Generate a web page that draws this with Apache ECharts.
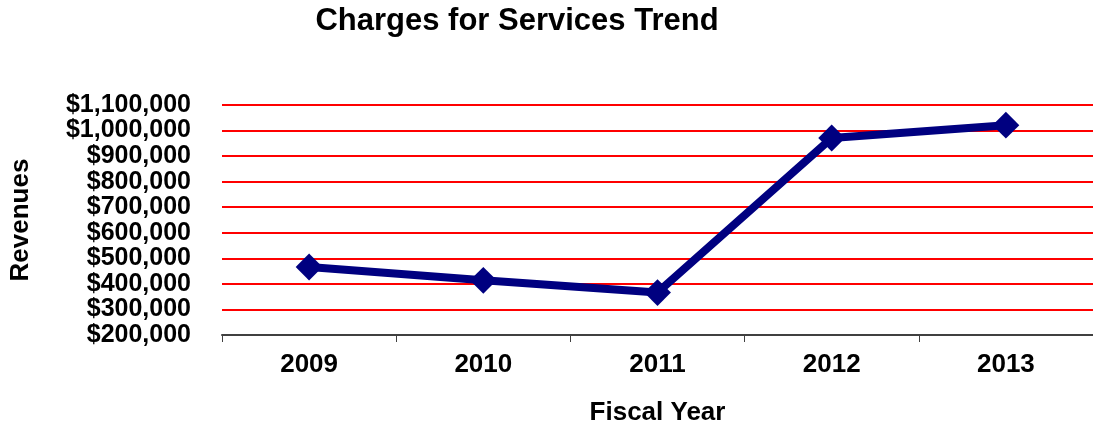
<!DOCTYPE html>
<html>
<head>
<meta charset="utf-8">
<script src="https://cdn.jsdelivr.net/npm/echarts@6/dist/echarts.min.js"></script>
<style>
  html, body { margin: 0; padding: 0; background: #fff; }
  #chart { width: 1093px; height: 431px; }
</style>
</head>
<body>
<div id="chart"></div>
<script>
// Fiscal years and charges-for-services revenue
const years = ['2009', '2010', '2011', '2012', '2013'];
const revenues = [466000, 414000, 366000, 971000, 1021000];
const yMin = 200000;
const yMax = 1100000;
const yStep = 100000;

const font = '"Liberation Sans", Arial, sans-serif';
const chart = echarts.init(document.getElementById('chart'));

chart.setOption({
  animation: false,
  backgroundColor: '#ffffff',
  title: {
    text: 'Charges for Services Trend',
    left: 512,
    textAlign: 'center',
    top: 1,
    textStyle: { fontFamily: font, fontWeight: 'bold', fontSize: 31, color: '#000' }
  },
  grid: { left: 222, right: -6, top: 105, bottom: 96 },
  xAxis: {
    type: 'category',
    data: years,
    boundaryGap: true,
    name: 'Fiscal Year',
    nameLocation: 'middle',
    nameGap: 65,
    nameTextStyle: { fontFamily: font, fontWeight: 'bold', fontSize: 26, color: '#000' },
    axisLine: { lineStyle: { color: '#404040', width: 2 } },
    axisTick: { show: true, alignWithLabel: false, length: 7, lineStyle: { color: '#404040', width: 1 } },
    axisLabel: { fontFamily: font, fontWeight: 'bold', fontSize: 26, color: '#000', margin: 17 },
    splitLine: { show: false }
  },
  yAxis: {
    type: 'value',
    min: yMin,
    max: yMax,
    interval: yStep,
    name: 'Revenues',
    nameLocation: 'middle',
    nameRotate: 90,
    nameGap: 188,
    nameTextStyle: { fontFamily: font, fontWeight: 'bold', fontSize: 26, color: '#000' },
    axisLine: { show: false },
    axisTick: { show: false },
    axisLabel: {
      fontFamily: font, fontWeight: 'bold', fontSize: 25, color: '#000', margin: 31,
      formatter: v => '$' + v.toLocaleString('en-US')
    },
    splitLine: { lineStyle: { color: '#ff0000', width: 2 } }
  },
  series: [{
    type: 'line',
    data: revenues,
    lineStyle: { color: '#000080', width: 8 },
    itemStyle: { color: '#000080' },
    symbol: 'rect',
    symbolSize: 19,
    symbolRotate: 45,
    z: 3
  }]
});
</script>
</body>
</html>
